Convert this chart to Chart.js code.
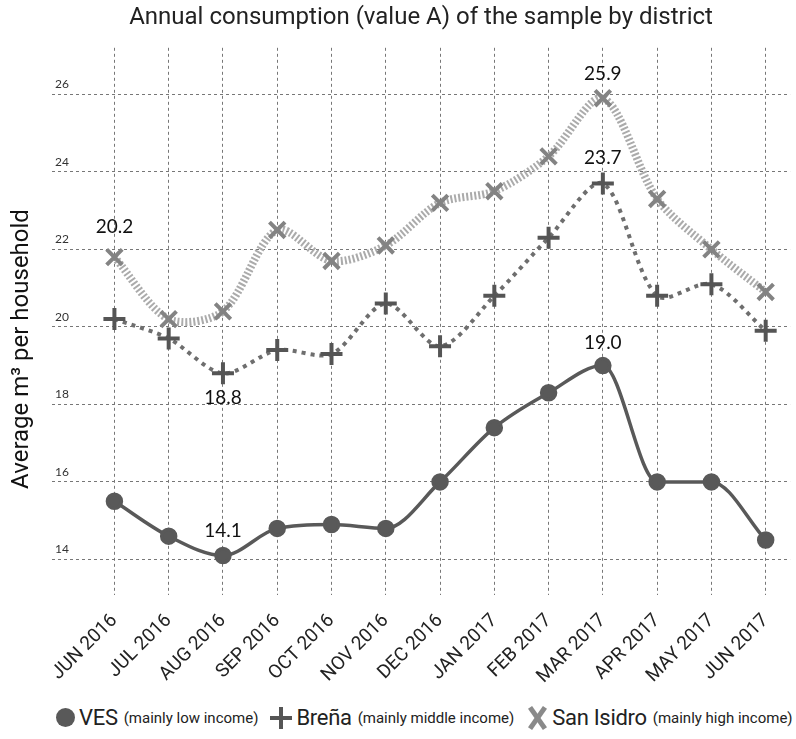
<!DOCTYPE html>
<html>
<head>
<meta charset="utf-8">
<script src="https://cdn.jsdelivr.net/npm/chart.js@4/dist/chart.umd.min.js"></script>
<style>
  body { margin: 0; background: #fff; width: 796px; height: 739px; overflow: hidden; position: relative; }
  #wrap { position: absolute; left: 0; top: 0; width: 796px; height: 702px; }
  #legend { position: absolute; left: 56px; top: 705px; display: flex; align-items: center; white-space: nowrap;
            font-family: Roboto, sans-serif; color: #222; }
  .item { display: flex; align-items: center; margin-right: 12px; }
  .big { font-size: 22px; margin-left: 4px; letter-spacing: -0.3px; }
  .small { font-size: 15px; margin-left: 6px; }
  .dot { width: 19px; height: 19px; border-radius: 50%; background: #595959; }
  .plus, .ex { position: relative; width: 22px; height: 22px; }
  .plus::before, .plus::after, .ex::before, .ex::after { content: ""; position: absolute; left: 9px; top: 0; width: 4px; height: 22px; background: #555; }
  .plus::after { transform: rotate(90deg); }
  .ex::before, .ex::after { background: #8a8a8a; height: 26px; top: -2px; left: 9px; width: 5px; }
  .ex::before { transform: rotate(35deg); }
  .ex::after { transform: rotate(-35deg); }
</style>
</head>
<body>
<div id="wrap"><canvas id="chart"></canvas></div>
<div id="legend">
  <div class="item"><div class="dot"></div><span class="big">VES</span><span class="small">(mainly low income)</span></div>
  <div class="item"><div class="plus"></div><span class="big">Breña</span><span class="small">(mainly middle income)</span></div>
  <div class="item"><div class="ex"></div><span class="big">San Isidro</span><span class="small">(mainly high income)</span></div>
</div>
<script>
// months shown on the x axis
const months = ['JUN 2016','JUL 2016','AUG 2016','SEP 2016','OCT 2016','NOV 2016','DEC 2016',
                'JAN 2017','FEB 2017','MAR 2017','APR 2017','MAY 2017','JUN 2017'];
const yTicks = [14, 16, 18, 20, 22, 24, 26];

// average m3 per household
const ves       = [15.5, 14.6, 14.1, 14.8, 14.9, 14.8, 16.0, 17.4, 18.3, 19.0, 16.0, 16.0, 14.5];
const brena     = [20.2, 19.7, 18.8, 19.4, 19.3, 20.6, 19.5, 20.8, 22.3, 23.7, 20.8, 21.1, 19.9];
const sanIsidro = [21.8, 20.2, 20.4, 22.5, 21.7, 22.1, 23.2, 23.5, 24.4, 25.9, 23.3, 22.0, 20.9];

// value labels written next to some points: [dataset, index, text, offset]
const pointNotes = [
  [2, 0, '20.2', -30],
  [1, 2, '18.8', 25],
  [0, 2, '14.1', -25],
  [2, 9, '25.9', -24],
  [1, 9, '23.7', -26],
  [0, 9, '19.0', -23],
];

const yTitle = 'Average m³ per household';

const toXY = arr => arr.map((v, i) => ({ x: i, y: v }));

const notesPlugin = {
  id: 'notes',
  afterDatasetsDraw(chart) {
    const ctx = chart.ctx;
    ctx.save();
    ctx.font = '19px Lato, "Open Sans", sans-serif';
    ctx.fillStyle = '#111';
    ctx.textAlign = 'center';
    ctx.textBaseline = 'middle';
    pointNotes.forEach(([ds, idx, text, dy]) => {
      const pt = chart.getDatasetMeta(ds).data[idx];
      ctx.fillText(text, pt.x, pt.y + dy);
    });
    // y axis title sits a bit lower than the plot centre in the original
    ctx.font = '24px Roboto, sans-serif';
    ctx.translate(22, 349);
    ctx.rotate(-Math.PI / 2);
    ctx.fillText(yTitle, 0, 0);
    ctx.restore();
  }
};

const gridStyle = { color: '#777', lineWidth: 1, drawTicks: false };

new Chart(document.getElementById('chart'), {
  type: 'line',
  data: {
    datasets: [
      {
        label: 'VES', data: toXY(ves),
        borderColor: '#595959', borderWidth: 3.5, cubicInterpolationMode: 'monotone',
        pointStyle: 'circle', pointRadius: 7, pointBackgroundColor: '#595959', pointBorderColor: '#595959'
      },
      {
        label: 'Breña', data: toXY(brena),
        borderColor: '#6e6e6e', borderWidth: 4, borderDash: [4, 5], tension: 0.3,
        pointStyle: 'cross', pointRadius: 11, pointBorderWidth: 4, pointBorderColor: '#555'
      },
      {
        label: 'San Isidro', data: toXY(sanIsidro),
        borderColor: '#ababab', borderWidth: 8, borderDash: [2, 2], tension: 0.3,
        pointStyle: 'crossRot', pointRadius: 11, pointBorderWidth: 4, pointBorderColor: '#838383'
      }
    ]
  },
  options: {
    responsive: true,
    maintainAspectRatio: false,
    animation: false,
    layout: { autoPadding: false, padding: { left: 52, right: -8, bottom: 0 } },
    plugins: {
      legend: { display: false },
      tooltip: { enabled: false },
      title: {
        display: true, fullSize: false,
        text: 'Annual consumption (value A) of the sample by district',
        font: { family: 'Roboto', size: 24, weight: 'normal' }, color: '#222',
        padding: { top: 4, bottom: 15 }
      }
    },
    scales: {
      x: {
        type: 'linear', min: -1.15, max: 12.45,
        afterBuildTicks: s => { s.ticks = months.map((m, i) => ({ value: i })); },
        ticks: { callback: v => months[v], minRotation: 45, maxRotation: 45, autoSkip: false,
                 font: { family: 'Roboto', size: 19 }, color: '#222', padding: 14 },
        grid: gridStyle,
        border: { display: false, dash: [3, 3] }
      },
      y: {
        min: 13.07, max: 27.2,
        afterBuildTicks: s => { s.ticks = yTicks.map(v => ({ value: v })); },
        afterFit: s => { s.width = 0; },
        ticks: { mirror: true, labelOffset: -10, padding: 3, font: { family: 'Lato', size: 12 }, color: '#333' },
        grid: gridStyle,
        border: { display: false, dash: [3, 3] }
      }
    }
  },
  plugins: [notesPlugin]
});
</script>
</body>
</html>
